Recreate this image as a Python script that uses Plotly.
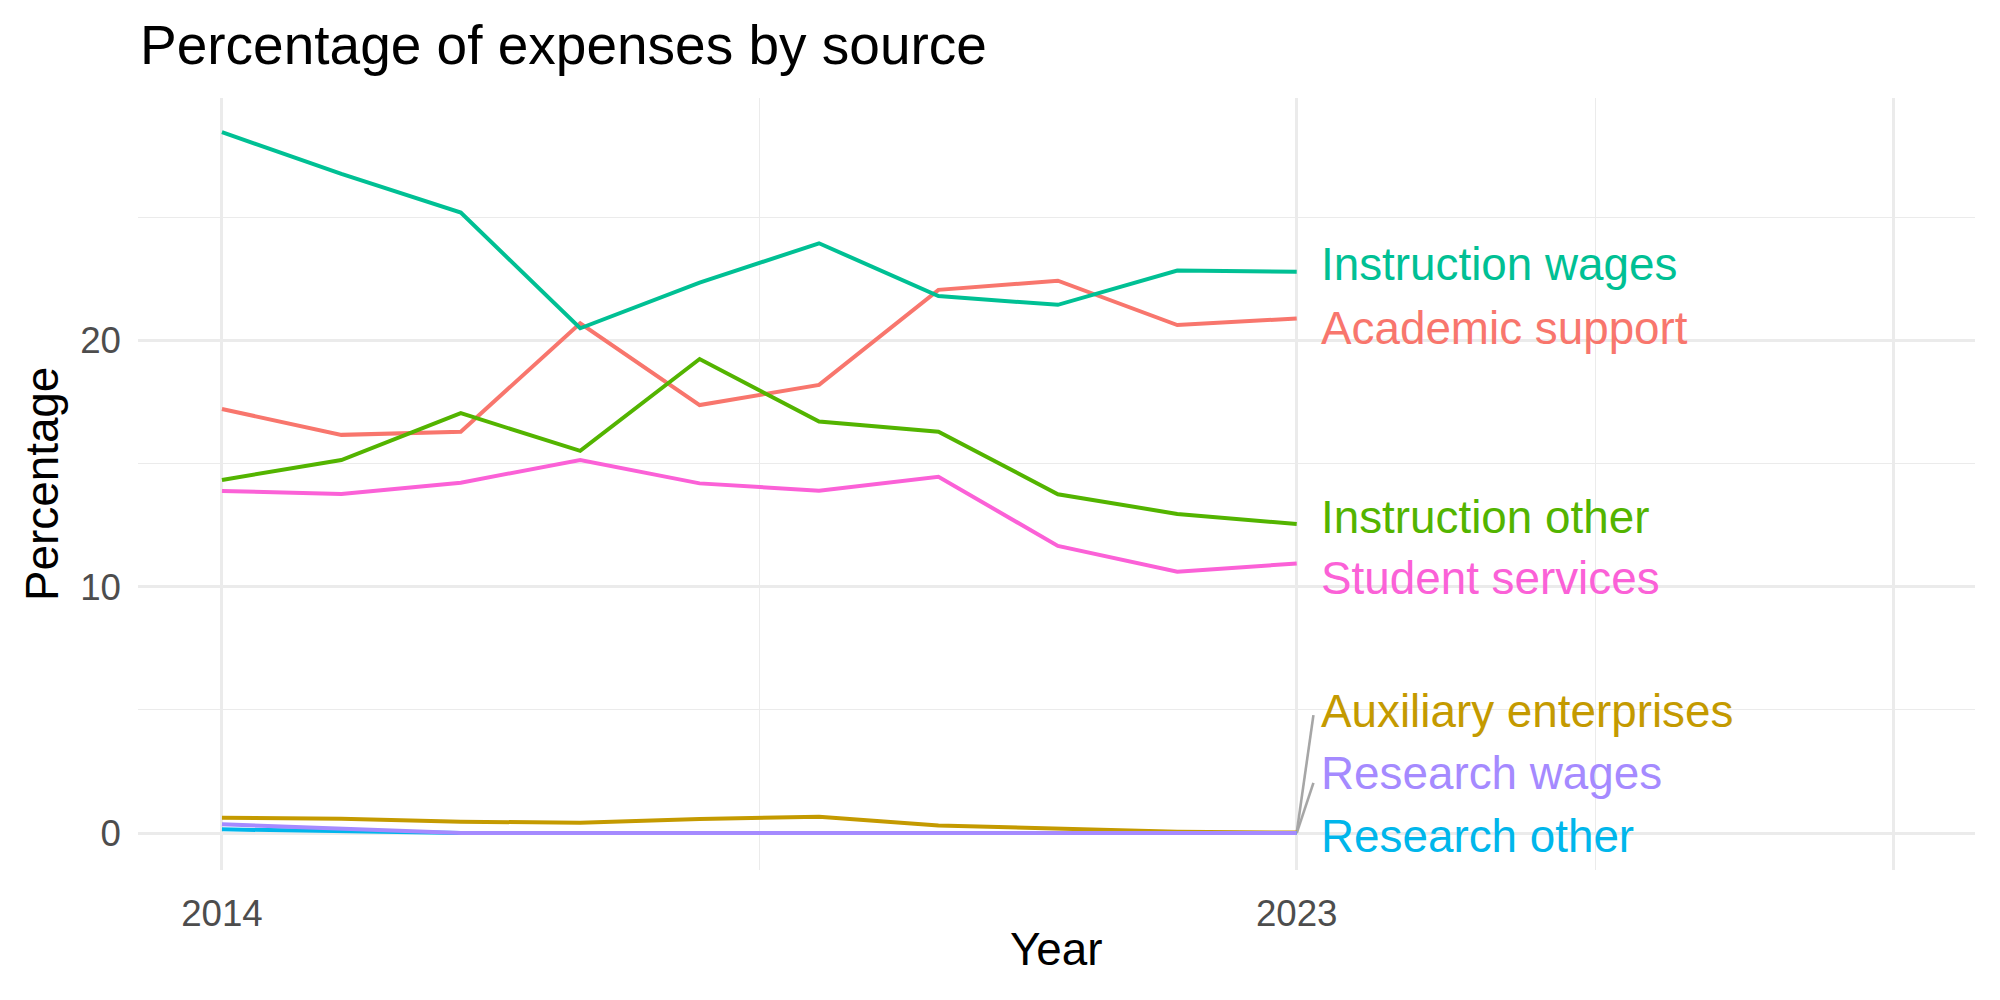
import plotly.graph_objects as go

years = [2014, 2015, 2016, 2017, 2018, 2019, 2020, 2021, 2022, 2023]

academic_support = [17.22, 16.17, 16.30, 20.70, 17.38, 18.20, 22.06, 22.43, 20.63, 20.90]
auxiliary_enterprises = [0.62, 0.58, 0.46, 0.42, 0.57, 0.66, 0.31, 0.19, 0.05, 0.02]
instruction_other = [14.34, 15.15, 17.05, 15.52, 19.25, 16.71, 16.30, 13.76, 12.96, 12.55]
instruction_wages = [28.46, 26.77, 25.20, 20.50, 22.35, 23.95, 21.81, 21.45, 22.84, 22.79]
research_other = [0.15, 0.08, 0.0, 0.0, 0.0, 0.0, 0.0, 0.0, 0.0, 0.0]
research_wages = [0.36, 0.18, 0.0, 0.0, 0.0, 0.0, 0.0, 0.0, 0.0, 0.0]
student_services = [13.89, 13.77, 14.23, 15.15, 14.20, 13.90, 14.47, 11.66, 10.61, 10.95]

series_names = ["Academic support", "Auxiliary enterprises", "Instruction other",
                "Instruction wages", "Research other", "Research wages", "Student services"]
series_values = [academic_support, auxiliary_enterprises, instruction_other,
                 instruction_wages, research_other, research_wages, student_services]
colors = ["#F8766D", "#C49A00", "#53B400", "#00C094", "#00B6EB", "#A58AFF", "#FB61D7"]

# repelled label positions (y in data units) and whether a connector segment is drawn
label_y = [20.51, 4.93, 12.83, 23.07, -0.13, 2.41, 10.32]
segment_end_y = [None, 4.79, None, None, None, 2.04, None]
segment_end_x = 2023.14

x_tickvals = [2014, 2023, 2028]
x_ticktext = ["2014", "2023", ""]
x_minor = [2018.5, 2025.5]
y_tickvals = [0, 10, 20]

FONT = "Liberation Sans, Arial, Helvetica, sans-serif"

fig = go.Figure()

for name, vals, col, sy in zip(series_names, series_values, colors, segment_end_y):
    if sy is not None:
        fig.add_trace(go.Scatter(x=[years[-1], segment_end_x], y=[vals[-1], sy], mode="lines",
                                 line=dict(color="#A6A6A6", width=2.6), showlegend=False,
                                 hoverinfo="skip"))

for name, vals, col in zip(series_names, series_values, colors):
    fig.add_trace(go.Scatter(x=years, y=vals, mode="lines", name=name,
                             line=dict(color=col, width=4), showlegend=False))

annotations = []
for name, vals, col, ly in zip(series_names, series_values, colors, label_y):
    annotations.append(dict(x=years[-1], y=ly, xref="x", yref="y", text=name,
                            showarrow=False, xanchor="left", yanchor="middle", xshift=22,
                            font=dict(family=FONT, size=45.8, color=col)))

annotations.append(dict(x=0.5, y=-0.1036, xref="paper", yref="paper", text="Year",
                        showarrow=False, xanchor="center", yanchor="middle",
                        font=dict(family=FONT, size=45.8, color="#000000")))
annotations.append(dict(x=-0.0523, y=0.5, xref="paper", yref="paper", text="Percentage",
                        showarrow=False, xanchor="center", yanchor="middle", textangle=-90,
                        font=dict(family=FONT, size=45.8, color="#000000")))

fig.update_layout(
    width=2000, height=1000,
    margin=dict(l=138, r=25, t=98, b=130),
    paper_bgcolor="white", plot_bgcolor="white",
    title=dict(text="Percentage of expenses by source", x=0.07, xref="container", xanchor="left",
               y=0.955, yref="container", yanchor="middle",
               font=dict(family=FONT, size=55, color="#000000")),
    annotations=annotations,
    hovermode=False,
    xaxis=dict(range=[2013.297, 2028.68], tickvals=x_tickvals, ticktext=x_ticktext,
               showgrid=True, gridcolor="#EBEBEB", gridwidth=2.7, zeroline=False, showline=False,
               ticks="", ticklabelstandoff=18,
               tickfont=dict(family=FONT, size=36.7, color="#4D4D4D"),
               minor=dict(tickvals=x_minor, showgrid=True, gridcolor="#EBEBEB", gridwidth=1.4)),
    yaxis=dict(range=[-1.50, 29.85], tickvals=y_tickvals,
               showgrid=True, gridcolor="#EBEBEB", gridwidth=2.7, zeroline=False, showline=False,
               ticks="", ticklabelstandoff=16,
               tickfont=dict(family=FONT, size=36.7, color="#4D4D4D"),
               minor=dict(dtick=5, tick0=0, showgrid=True, gridcolor="#EBEBEB", gridwidth=1.4)),
)

fig.write_html("out.html")
